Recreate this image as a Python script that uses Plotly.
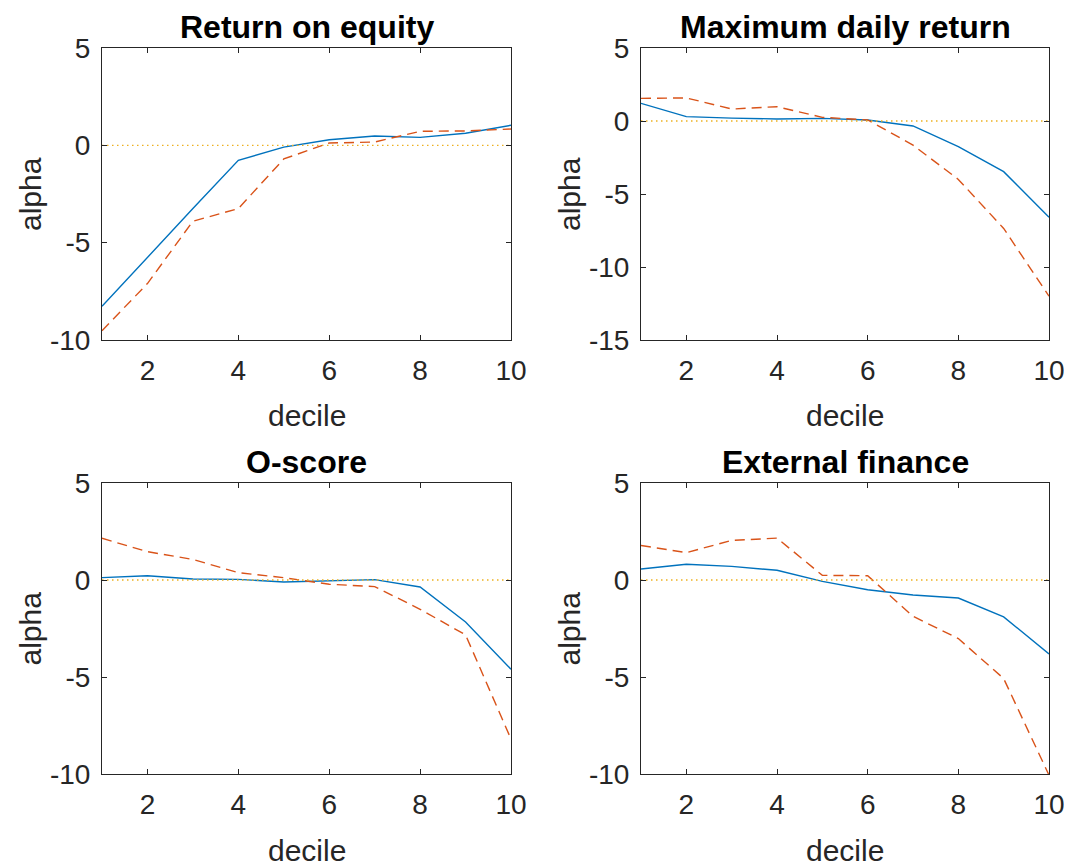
import plotly.graph_objects as go

deciles = [1, 2, 3, 4, 5, 6, 7, 8, 9, 10]

titles = ["Return on equity", "Maximum daily return", "O-score", "External finance"]

roe_solid = [-8.27, -5.75, -3.25, -0.77, -0.09, 0.29, 0.48, 0.41, 0.62, 1.03]
roe_dash = [-9.52, -7.1, -3.9, -3.25, -0.70, 0.12, 0.17, 0.72, 0.74, 0.84]

maxret_solid = [1.21, 0.30, 0.20, 0.14, 0.18, 0.07, -0.34, -1.76, -3.47, -6.60]
maxret_dash = [1.55, 1.58, 0.82, 0.98, 0.25, 0.07, -1.65, -4.00, -7.36, -12.0]

oscore_solid = [0.12, 0.22, 0.05, 0.03, -0.10, -0.03, 0.02, -0.36, -2.16, -4.60]
oscore_dash = [2.15, 1.46, 1.06, 0.38, 0.12, -0.22, -0.34, -1.51, -2.83, -8.20]

extfin_solid = [0.57, 0.81, 0.70, 0.50, -0.07, -0.50, -0.77, -0.93, -1.90, -3.81]
extfin_dash = [1.78, 1.41, 2.04, 2.16, 0.24, 0.22, -1.87, -3.02, -5.08, -10.06]

solid_series = [roe_solid, maxret_solid, oscore_solid, extfin_solid]
dash_series = [roe_dash, maxret_dash, oscore_dash, extfin_dash]
zero_line = [0 for _ in deciles]

y_ranges = [[-10, 5], [-15, 5], [-10, 5], [-10, 5]]
y_ticks = [[-10, -5, 0, 5], [-15, -10, -5, 0, 5], [-10, -5, 0, 5], [-10, -5, 0, 5]]
x_ticks = [2, 4, 6, 8, 10]

# page body has an 8px margin; figure fills the rest of the 1072x867 window
OFF = 8
W, H = 1072 - OFF, 867 - OFF


def fx(px):
    return (px - OFF) / W


def fy(py):
    return 1 - (py - OFF) / H


x_doms = [[fx(102), fx(511)], [fx(641), fx(1049)]]
y_doms = [[fy(340), fy(48)], [fy(774), fy(483)]]

BLUE = "#0072BD"
RED = "#D95319"
YEL = "#EDB120"
AX = "#262626"
FONT = "Liberation Sans, Arial, Helvetica, sans-serif"

fig = go.Figure()
annotations = []
for i in range(4):
    row, col = divmod(i, 2)
    n = "" if i == 0 else str(i + 1)
    xa, ya = "x" + n, "y" + n
    fig.add_trace(go.Scatter(x=deciles, y=solid_series[i], mode="lines",
                             line=dict(color=BLUE, width=1.4), xaxis=xa, yaxis=ya,
                             showlegend=False))
    fig.add_trace(go.Scatter(x=deciles, y=dash_series[i], mode="lines",
                             line=dict(color=RED, width=1.4, dash="10px,6px"), xaxis=xa, yaxis=ya,
                             showlegend=False))
    fig.add_trace(go.Scatter(x=deciles, y=zero_line, mode="lines",
                             line=dict(color=YEL, width=1.4, dash="1.5px,3.5px"), xaxis=xa, yaxis=ya,
                             showlegend=False))
    common = dict(showline=True, linecolor=AX, linewidth=1, mirror="ticks",
                  ticks="inside", ticklen=5, tickcolor=AX, tickwidth=1,
                  showgrid=False, zeroline=False, automargin=False,
                  tickfont=dict(family=FONT, size=28, color=AX))
    fig.layout["xaxis" + n] = dict(domain=x_doms[col], range=[1, 10], tickvals=x_ticks,
                                   ticktext=[str(v) for v in x_ticks],
                                   anchor=ya, ticklabelstandoff=5, **common)
    fig.layout["yaxis" + n] = dict(domain=y_doms[row], range=y_ranges[i], tickvals=y_ticks[i],
                                   ticktext=[str(v) for v in y_ticks[i]],
                                   anchor=xa, ticklabelstandoff=5, **common)
    xc = (x_doms[col][0] + x_doms[col][1]) / 2
    # title
    annotations.append(dict(text="<b>" + titles[i] + "</b>", x=xc, y=y_doms[row][1] + 21 / H,
                            xref="paper", yref="paper", xanchor="center", yanchor="middle",
                            showarrow=False, font=dict(family=FONT, size=32, color="#000000")))
    # x label
    annotations.append(dict(text="decile", x=xc, y=y_doms[row][0] - 76 / H,
                            xref="paper", yref="paper", xanchor="center", yanchor="middle",
                            showarrow=False, font=dict(family=FONT, size=30, color=AX)))
    # y label
    annotations.append(dict(text="alpha", x=x_doms[col][0] - 72 / W,
                            y=(y_doms[row][0] + y_doms[row][1]) / 2,
                            xref="paper", yref="paper", xanchor="center", yanchor="middle",
                            textangle=-90, showarrow=False,
                            font=dict(family=FONT, size=30, color=AX)))

fig.update_layout(width=W, height=H, margin=dict(l=0, r=0, t=0, b=0, pad=0, autoexpand=False),
                  paper_bgcolor="white", plot_bgcolor="white",
                  annotations=annotations, showlegend=False)

fig.write_html("out.html")
